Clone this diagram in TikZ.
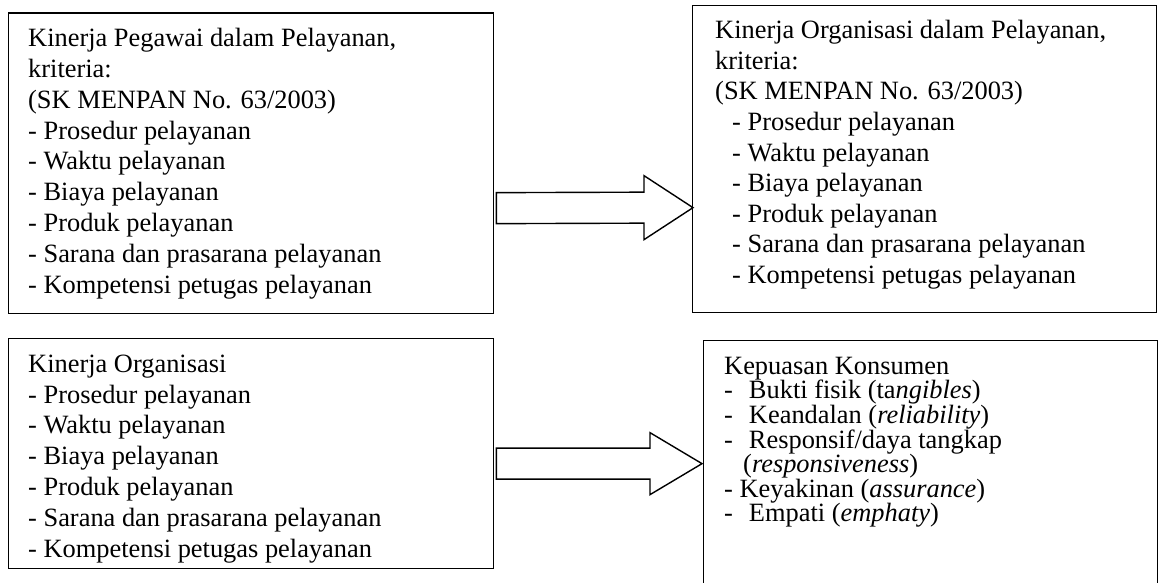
\documentclass[tikz,border=0pt]{standalone}
\usepackage{fontspec}
\setmainfont{Liberation Serif}
\usetikzlibrary{calc}
\begin{document}
\begin{tikzpicture}[x=1pt,y=-1pt,
  box/.style={draw=black, line width=1.3pt, anchor=north west, inner sep=0pt},
  txt/.style={anchor=north west, inner sep=0pt, align=left},
  blockarrow/.style={draw=black, line width=1.4pt, line join=miter, fill=white}]
\useasboundingbox (0,0) rectangle (1159,583);
\clip (0,0) rectangle (1159,583);

% boxes
\node[box, minimum width=485pt, minimum height=300pt] (b1) at (8,12.5) {};
\node[box, minimum width=464pt, minimum height=307pt] (b2) at (692,5) {};
\node[box, minimum width=485pt, minimum height=230pt] (b3) at (8,338) {};
\node[box, minimum width=454pt, minimum height=260pt] (b4) at (703,340) {};

% texts
\node[txt, font=\fontsize{26.4}{30.8}\selectfont] (t1) at (28,26.5) {\rule{0pt}{20pt}Kinerja Pegawai dalam Pelayanan,\\
kriteria:\\
(SK MENPAN No. 63/2003)\\
- Prosedur pelayanan\\
- Waktu pelayanan\\
- Biaya pelayanan\\
- Produk pelayanan\\
- Sarana dan prasarana pelayanan\\
- Kompetensi petugas pelayanan};

\node[txt, font=\fontsize{26.4}{30.6}\selectfont] (t2) at (715,18.5) {\rule{0pt}{20pt}Kinerja Organisasi dalam Pelayanan,\\
kriteria:\\
(SK MENPAN No. 63/2003)\\
\hspace*{17pt}- Prosedur pelayanan\\
\hspace*{17pt}- Waktu pelayanan\\
\hspace*{17pt}- Biaya pelayanan\\
\hspace*{17pt}- Produk pelayanan\\
\hspace*{17pt}- Sarana dan prasarana pelayanan\\
\hspace*{17pt}- Kompetensi petugas pelayanan};

\node[txt, font=\fontsize{26.4}{30.8}\selectfont] (t3) at (28,352) {\rule{0pt}{20pt}Kinerja Organisasi\\
- Prosedur pelayanan\\
- Waktu pelayanan\\
- Biaya pelayanan\\
- Produk pelayanan\\
- Sarana dan prasarana pelayanan\\
- Kompetensi petugas pelayanan};

\node[txt, font=\fontsize{26.4}{24.6}\selectfont] (t4) at (724,354) {\rule{0pt}{20pt}Kepuasan Konsumen\\
-\hspace{16pt}Bukti fisik (ta\textit{ngibles})\\
-\hspace{16pt}Keandalan (\textit{reliability})\\
-\hspace{16pt}Responsif/daya tangkap\\
\hspace*{19pt}(\textit{responsiveness})\\
- Keyakinan (\textit{assurance})\\
-\hspace{16pt}Empati (\textit{emphaty})};

% block arrows
\coordinate (a1t) at ($(b1.east)+(2,45)$);
\coordinate (a1h) at ($(b2.west)+(1,48.5)$);
\draw[blockarrow] ($(a1t)+(0,-15.5)$) -- ($(a1h)+(-49,-15.5)$) -- ($(a1h)+(-49,-32)$)
  -- (a1h) -- ($(a1h)+(-49,32)$) -- ($(a1h)+(-49,15.5)$) -- ($(a1t)+(0,15.5)$) -- cycle;

\coordinate (a2t) at ($(b3.east)+(2,10)$);
\coordinate (a2h) at ($(b4.west)+(-1,-7)$);
\draw[blockarrow] ($(a2t)+(0,-15.5)$) -- ($(a2h)+(-52,-15.5)$) -- ($(a2h)+(-52,-31)$)
  -- (a2h) -- ($(a2h)+(-52,31)$) -- ($(a2h)+(-52,15.5)$) -- ($(a2t)+(0,15.5)$) -- cycle;
\end{tikzpicture}
\end{document}
